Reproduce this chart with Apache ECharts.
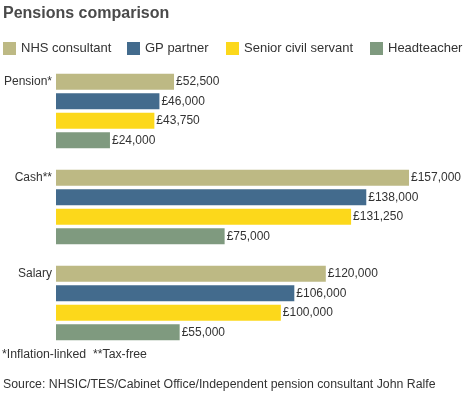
<!DOCTYPE html>
<html><head><meta charset="utf-8">
<script src="https://cdn.jsdelivr.net/npm/echarts@6/dist/echarts.min.js"></script>
<style>html,body{margin:0;padding:0;background:#fff}#c{width:464px;height:400px}</style>
</head><body><div id="c"></div>
<script>
const categories = ['Pension*', 'Cash**', 'Salary'];
const seriesNames = ['NHS consultant', 'GP partner', 'Senior civil servant', 'Headteacher'];
const nhs = [52500, 157000, 120000];
const gp = [46000, 138000, 106000];
const civil = [43750, 131250, 100000];
const head = [24000, 75000, 55000];
const colors = ['#bdb984', '#436b8d', '#fcd81b', '#7f9a7f'];
const values = [nhs, gp, civil, head];
const legendLefts = [3, 127, 226, 370];

const chart = echarts.init(document.getElementById('c'));
const font = '"Liberation Sans", Arial, sans-serif';
chart.setOption({
  animation: false,
  textStyle: { fontFamily: font },
  title: [
    { text: 'Pensions comparison', left: 3, top: 6, padding: 0, textStyle: { fontSize: 16, fontWeight: 'bold', color: '#4a4a4a', fontFamily: font } },
    { text: '*Inflation-linked  **Tax-free', left: 2, top: 349, padding: 0, textStyle: { fontSize: 12.3, fontWeight: 'normal', color: '#333', fontFamily: font } },
    { text: 'Source: NHSIC/TES/Cabinet Office/Independent pension consultant John Ralfe', left: 3, top: 379, padding: 0, textStyle: { fontSize: 12.3, fontWeight: 'normal', color: '#333', fontFamily: font } }
  ],
  legend: seriesNames.map((n, i) => ({
    left: legendLefts[i], top: 42, padding: 0, itemWidth: 13, itemHeight: 13, itemTextGap: 5,
    icon: 'rect',
    textStyle: { fontSize: 13, color: '#333', fontFamily: font },
    data: [n]
  })),
  grid: { left: 56, top: 63, width: 404.7, height: 288, containLabel: false },
  xAxis: { type: 'value', min: 0, max: 180000, show: false },
  yAxis: {
    type: 'category', data: categories, inverse: true,
    axisLine: { show: false }, axisTick: { show: false },
    axisLabel: { fontSize: 12, color: '#333', margin: 4, verticalAlign: 'bottom', lineHeight: 58, fontFamily: font }
  },
  series: values.map((v, i) => ({
    name: seriesNames[i], type: 'bar', data: v,
    barWidth: 16, barGap: '22%', barCategoryGap: '22%',
    itemStyle: { color: colors[i] },
    label: {
      show: true, position: 'right', distance: 2, fontSize: 12, color: '#333', fontFamily: font,
      formatter: p => '£' + p.value.toLocaleString('en-GB')
    }
  }))
});
</script></body></html>
